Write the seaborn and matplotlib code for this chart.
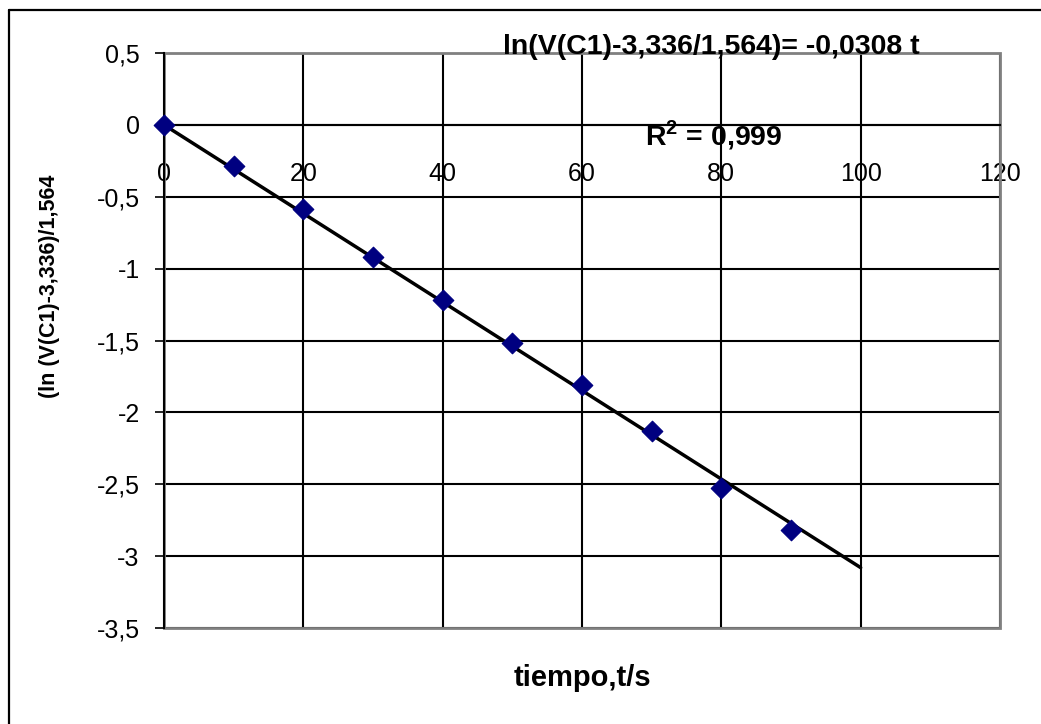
import matplotlib
matplotlib.use("Agg")
import matplotlib.pyplot as plt
from matplotlib.patches import Rectangle
from matplotlib.lines import Line2D
from matplotlib.ticker import FuncFormatter, MultipleLocator
import numpy as np
import pandas as pd
import seaborn as sns

# measured points (t in s, ln term)
tiempo = [0, 10, 20, 30, 40, 50, 60, 70, 80, 90]
ln_val = [0.0, -0.285, -0.586, -0.918, -1.217, -1.518, -1.812, -2.131, -2.526, -2.815]

# linear trend forced through origin
pendiente = -0.0308
trend_t = [0, 100]

eq_text = "ln(V(C1)-3,336/1,564)= -0,0308 t"
r2_text = r"R$^{\mathbf{2}}$ = 0,999"
xlabel = "tiempo,t/s"
ylabel = "(ln (V(C1)-3,336)/1,564"

df = pd.DataFrame({"t": tiempo, "y": ln_val})
df_tr = pd.DataFrame({"t": trend_t, "y": [pendiente * v for v in trend_t]})

sns.set_style("white")
plt.rcParams["font.family"] = ["Liberation Sans", "DejaVu Sans"]
plt.rcParams["text.color"] = "black"
plt.rcParams["axes.labelcolor"] = "black"
plt.rcParams["mathtext.fontset"] = "custom"
plt.rcParams["mathtext.bf"] = "Liberation Sans:bold"
plt.rcParams["mathtext.rm"] = "Liberation Sans"

fig = plt.figure(figsize=(10.41, 7.24), dpi=100)
ax = fig.add_axes([164/1041, 1-628/724, (1000-164)/1041, (628-53)/724])

ax.grid(True, color="black", lw=1.5)
ax.set_axisbelow(True)

sns.lineplot(data=df_tr, x="t", y="y", color="black", lw=2.5, ax=ax, zorder=3)
sns.scatterplot(data=df, x="t", y="y", marker="D", s=110, color="#000080",
                edgecolor="#000080", ax=ax, zorder=4, clip_on=False)

ax.set_xlim(0, 120)
ax.set_ylim(-3.5, 0.5)
ax.xaxis.set_major_locator(MultipleLocator(20))
ax.yaxis.set_major_locator(MultipleLocator(0.5))

fmt = FuncFormatter(lambda v, p: ("%g" % v).replace(".", ","))
ax.xaxis.set_major_formatter(fmt)
ax.yaxis.set_major_formatter(fmt)

ax.spines["top"].set_visible(False)
ax.spines["right"].set_visible(False)
ax.spines["bottom"].set_position(("data", 0))
ax.spines["bottom"].set_color("black")
ax.spines["bottom"].set_linewidth(1.5)
ax.spines["left"].set_color("black")
ax.spines["left"].set_linewidth(1.5)

ax.tick_params(axis="y", direction="out", length=6.5, width=1.2, pad=11,
               labelsize=18, left=True, colors="black")
ax.tick_params(axis="x", direction="out", length=4.5, width=1.2, pad=22,
               labelsize=18, bottom=True, colors="black")

# gray plot-area frame
ax.add_patch(Rectangle((0, 0), 1, 1, transform=ax.transAxes, fill=False,
                       edgecolor="#808080", lw=2, clip_on=False, zorder=2))

ax.set_xlabel(xlabel, fontsize=21, fontweight="bold")
ax.set_ylabel(ylabel, fontsize=15.5, fontweight="bold")
ax.xaxis.set_label_coords(0.5, -0.063)
ax.yaxis.set_label_coords(-0.125, 0.595)

fig.text(503/1041, 1-54/724, eq_text, fontsize=20.5, fontweight="bold", va="baseline")
fig.text(645/1041, 1-145/724, r2_text, fontsize=20.5, fontweight="bold", va="baseline")

# outer chart border (only left/top visible)
fig.add_artist(Line2D([9/1041, 9/1041], [0, 1-10/724], transform=fig.transFigure,
                      color="black", lw=1.6))
fig.add_artist(Line2D([9/1041, 1], [1-10/724, 1-10/724], transform=fig.transFigure,
                      color="black", lw=1.6))

fig.savefig("out.png", dpi=100)
